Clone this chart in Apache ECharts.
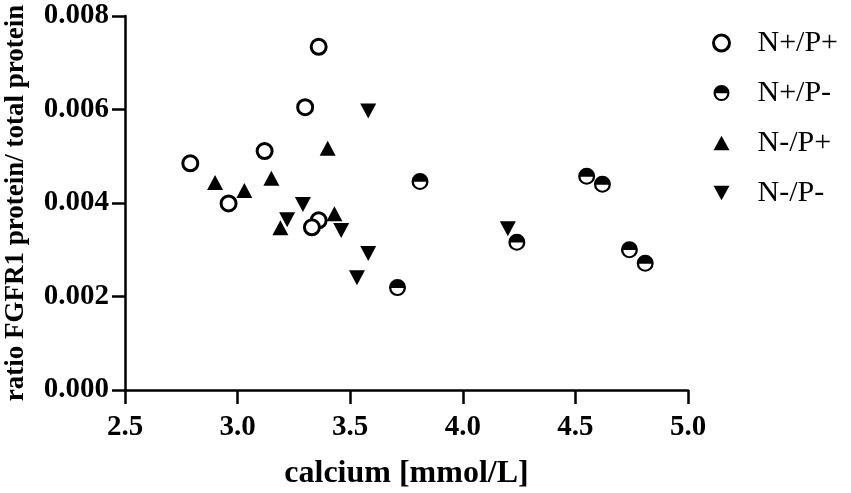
<!DOCTYPE html>
<html>
<head>
<meta charset="utf-8">
<script src="https://cdn.jsdelivr.net/npm/echarts@6/dist/echarts.min.js"></script>
<style>
html,body{margin:0;padding:0;background:#fff;}
#chart{width:851px;height:493px;}
</style>
</head>
<body>
<div id="chart"></div>
<script>
// Data
const seriesNames = ['N+/P+', 'N+/P-', 'N-/P+', 'N-/P-'];
const xTicks = [2.5, 3.0, 3.5, 4.0, 4.5, 5.0];
const yTicks = [0.000, 0.002, 0.004, 0.006, 0.008];

const nPpP = [ // N+/P+ : [calcium, ratio]
  [2.79, 0.00485], [2.96, 0.00399], [3.12, 0.00511], [3.30, 0.00605],
  [3.36, 0.00734], [3.36, 0.00363], [3.33, 0.00348]
];
const nPpM = [ // N+/P-
  [3.81, 0.00446], [3.71, 0.00219], [4.24, 0.00316], [4.55, 0.00457],
  [4.62, 0.00440], [4.74, 0.00300], [4.81, 0.00271]
];
const nMpP = [ // N-/P+
  [2.90, 0.00444], [3.03, 0.00427], [3.15, 0.00453], [3.40, 0.00517],
  [3.19, 0.00347], [3.43, 0.00377]
];
const nMpM = [ // N-/P-
  [3.58, 0.00597], [3.29, 0.00397], [3.22, 0.00364], [3.46, 0.00341],
  [3.58, 0.00292], [3.53, 0.00240], [4.20, 0.00345]
];

const halfCircle = 'path://M0 10 A10 10 0 1 1 20 10 A10 10 0 1 1 0 10 Z M2.8 10.4 A7.2 7.2 0 0 0 17.2 10.4 Z';
const upTri = 'path://M5 0 L10 9 L0 9 Z';
const downTri = 'path://M0 0 L10 0 L5 9 Z';

const serif = "'Liberation Serif', 'Times New Roman', 'DejaVu Serif', serif";

const chart = echarts.init(document.getElementById('chart'), null, {renderer: 'canvas'});
chart.setOption({
  animation: false,
  backgroundColor: '#fff',
  grid: {left: 125, right: 163, top: 16, bottom: 103, containLabel: false, outerBoundsMode: 'none'},
  legend: {
    orient: 'vertical',
    left: 707,
    top: 23,
    itemWidth: 16,
    itemHeight: 16,
    itemGap: 20,
    data: [
      {name: seriesNames[0], itemStyle: {color: '#fff', borderColor: '#000', borderWidth: 3}},
      {name: seriesNames[1]},
      {name: seriesNames[2]},
      {name: seriesNames[3]}
    ],
    textStyle: {fontFamily: serif, fontSize: 30, color: '#000', padding: [0, 0, 0, 23], lineHeight: 30}
  },
  xAxis: {
    type: 'value',
    min: xTicks[0],
    max: xTicks[xTicks.length - 1],
    interval: 0.5,
    splitLine: {show: false},
    axisLine: {lineStyle: {color: '#000', width: 2.5}},
    axisTick: {length: 14, lineStyle: {color: '#000', width: 2.5}},
    axisLabel: {
      margin: 23,
      color: '#000',
      fontFamily: serif,
      fontWeight: 'bold',
      fontSize: 29,
      formatter: v => v.toFixed(1)
    },
    name: 'calcium [mmol/L]',
    nameLocation: 'middle',
    nameGap: 68,
    nameTextStyle: {fontFamily: serif, fontWeight: 'bold', fontSize: 32, color: '#000'}
  },
  yAxis: {
    type: 'value',
    min: yTicks[0],
    max: yTicks[yTicks.length - 1],
    interval: 0.002,
    splitLine: {show: false},
    axisLine: {lineStyle: {color: '#000', width: 2.5}},
    axisTick: {length: 13, lineStyle: {color: '#000', width: 2.5}},
    axisLabel: {
      margin: 16,
      color: '#000',
      fontFamily: serif,
      fontWeight: 'bold',
      fontSize: 29,
      formatter: v => v.toFixed(3)
    },
    name: 'ratio FGFR1 protein/ total protein',
    nameLocation: 'middle',
    nameRotate: 90,
    nameGap: 95,
    nameTextStyle: {fontFamily: serif, fontWeight: 'bold', fontSize: 27, color: '#000'}
  },
  series: [
    {
      name: seriesNames[0], type: 'scatter', data: nPpP,
      symbol: 'circle', symbolSize: 15,
      itemStyle: {color: '#fff', borderColor: '#000', borderWidth: 3, opacity: 1}
    },
    {
      name: seriesNames[1], type: 'scatter', data: nPpM,
      symbol: halfCircle, symbolSize: 17, symbolKeepAspect: true,
      itemStyle: {color: '#000', opacity: 1}
    },
    {
      name: seriesNames[2], type: 'scatter', data: nMpP,
      symbol: upTri, symbolSize: [16, 15],
      itemStyle: {color: '#000', opacity: 1}
    },
    {
      name: seriesNames[3], type: 'scatter', data: nMpM,
      symbol: downTri, symbolSize: [16, 15],
      itemStyle: {color: '#000', opacity: 1}
    }
  ]
});
</script>
</body>
</html>
